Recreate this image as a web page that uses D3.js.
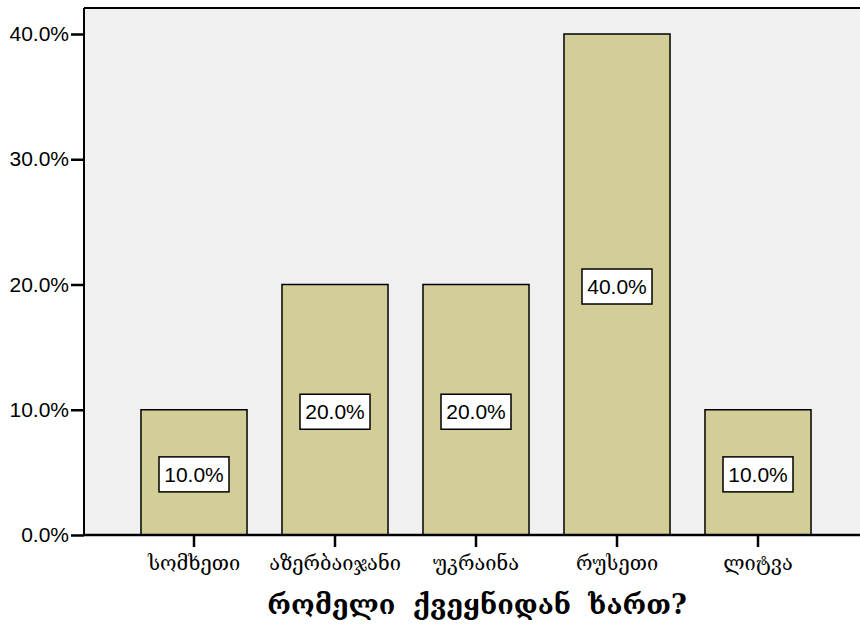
<!DOCTYPE html>
<html><head><meta charset="utf-8">
<script src="https://cdn.jsdelivr.net/npm/d3@7"></script>
<style>body{margin:0;background:#fff}svg{display:block}</style>
</head><body>
<svg id="c" width="860" height="628"></svg>
<script>
const categories = ["სომხეთი","აზერბაიჯანი","უკრაინა","რუსეთი","ლიტვა"];
const values = [10.0, 20.0, 20.0, 40.0, 10.0];
const yTicks = [0, 10, 20, 30, 40];
const xTitle = "რომელი ქვეყნიდან ხართ?";

(function(){
const svg = d3.select("#c");
const pL = 84, pT = 8, pR = 860, pB = 535;
const y = d3.scaleLinear().domain([0, 40]).range([pB, 34]);
const x = d3.scaleBand().domain(categories).range([123.5, 828.5]).paddingInner(0.248).paddingOuter(0.124);

svg.append("rect").attr("x", pL).attr("y", pT).attr("width", pR - pL).attr("height", pB - pT).attr("fill", "#f0f0f0");

svg.selectAll("rect.bar").data(values).enter().append("rect").attr("class","bar")
  .attr("x", (d,i) => x(categories[i])).attr("width", x.bandwidth())
  .attr("y", d => y(d)).attr("height", d => y(0) - y(d))
  .attr("fill", "#d3ce97").attr("stroke", "#000").attr("stroke-width", 1.5);

const lab = svg.selectAll("g.lab").data(values).enter().append("g").attr("class","lab")
  .attr("transform", (d,i) => `translate(${x(categories[i]) + x.bandwidth()/2},${(y(d)+y(0))/2 + 2})`);
lab.append("rect").attr("x", -35).attr("y", -17.5).attr("width", 70).attr("height", 35)
  .attr("fill", "#fff").attr("stroke", "#000").attr("stroke-width", 1.5);
lab.append("text").attr("text-anchor","middle").attr("dy", "0.36em")
  .attr("font-family","Liberation Sans, Arial, sans-serif").attr("font-size", 21).text(d => d.toFixed(1) + "%");

const yAxis = svg.append("g").attr("transform", `translate(${pL},0)`)
  .call(d3.axisLeft(y).tickValues(yTicks).tickSize(13).tickFormat(d => d.toFixed(1) + "%"));
yAxis.select(".domain").remove();
yAxis.selectAll("line").attr("stroke-width", 2.5);
yAxis.selectAll("text").attr("font-family","Liberation Sans, Arial, sans-serif").attr("font-size", 21).attr("fill","#000").attr("x", -15);

const xAxis = svg.append("g").attr("transform", `translate(0,${pB})`)
  .call(d3.axisBottom(x).tickSize(12).tickPadding(9));
xAxis.select(".domain").remove();
xAxis.selectAll("line").attr("stroke-width", 2.5);
xAxis.selectAll("text").attr("font-family","DejaVu Serif, serif").attr("font-size", 20).attr("fill","#000");

svg.append("line").attr("x1", pL).attr("x2", pR).attr("y1", pT).attr("y2", pT).attr("stroke","#000").attr("stroke-width", 2);
svg.append("line").attr("x1", pL).attr("x2", pL).attr("y1", pT).attr("y2", pB).attr("stroke","#000").attr("stroke-width", 2);
svg.append("line").attr("x1", pL).attr("x2", pR).attr("y1", pB).attr("y2", pB).attr("stroke","#000").attr("stroke-width", 2.5);

svg.append("text").attr("x", 477).attr("y", 614).attr("text-anchor","middle")
  .attr("font-family","DejaVu Serif, serif").attr("font-weight","bold").attr("font-size", 27)
  .attr("word-spacing", 8).text(xTitle);
})();
</script>
</body></html>
